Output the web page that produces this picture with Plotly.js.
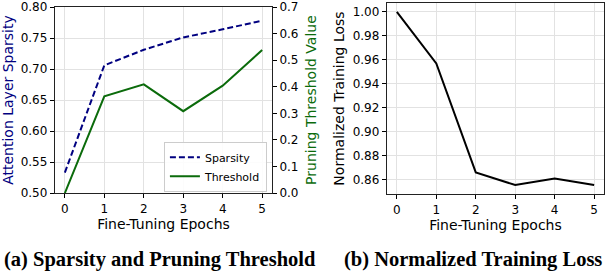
<!DOCTYPE html>
<html>
<head>
<meta charset="utf-8">
<script src="https://cdn.plot.ly/plotly-3.0.1.min.js"></script>
<style>html,body{margin:0;padding:0;background:#fff;}#chart{width:606px;height:272px;}</style>
</head>
<body>
<div id="chart"></div>
<script>
const epochs = [0, 1, 2, 3, 4, 5];
const sparsity = [0.533, 0.706, 0.731, 0.751, 0.764, 0.778];
const threshold = [0.0, 0.364, 0.409, 0.308, 0.404, 0.538];
const trainingLoss = [1.000, 0.957, 0.866, 0.8555, 0.861, 0.8555];

const navy = '#000080';
const green = '#0b6b0b';
const tickFont = {family: 'DejaVu Sans', size: 12, color: '#000'};
const titleFont = {family: 'DejaVu Sans', size: 14, color: '#000'};

const traces = [
  {x: epochs, y: sparsity, name: 'Sparsity', type: 'scatter', mode: 'lines',
   line: {color: navy, width: 2, dash: '6px,3px'}, xaxis: 'x', yaxis: 'y'},
  {x: epochs, y: threshold, name: 'Threshold', type: 'scatter', mode: 'lines',
   line: {color: green, width: 2}, xaxis: 'x', yaxis: 'y2'},
  {x: epochs, y: trainingLoss, name: 'Loss', type: 'scatter', mode: 'lines',
   line: {color: '#000', width: 2}, xaxis: 'x2', yaxis: 'y3', showlegend: false}
];

const baseX = {
  range: [-0.25, 5.25], tickvals: epochs, ticktext: epochs.map(String),
  ticks: 'outside', ticklen: 4, tickwidth: 1, tickcolor: '#000',
  showline: true, linecolor: '#222', linewidth: 1.2, mirror: true,
  showgrid: true, gridcolor: '#e2e2e2', gridwidth: 1, zeroline: false,
  tickfont: tickFont, ticklabeloverflow: 'allow',
  title: {text: 'Fine-Tuning Epochs', font: titleFont, standoff: 3}
};

const layout = {
  width: 606, height: 272,
  margin: {l: 55, r: 2, t: 3, b: 78},
  paper_bgcolor: '#fff', plot_bgcolor: '#fff',
  showlegend: true,
  legend: {x: 0.386, y: 0.012, xanchor: 'right', yanchor: 'bottom', xref: 'paper', yref: 'paper',
           bgcolor: 'rgba(255,255,255,0.9)', bordercolor: '#cccccc', borderwidth: 1,
           font: {family: 'DejaVu Sans', size: 11, color: '#000'}, tracegroupgap: 0, itemwidth: 30},
  xaxis: Object.assign({}, baseX, {domain: [0, 0.3953], anchor: 'y'}),
  xaxis2: Object.assign({}, baseX, {domain: [0.6047, 1], anchor: 'y3'}),
  yaxis: {
    domain: [0.005, 0.979], anchor: 'x', range: [0.5, 0.8],
    tickvals: [0.5, 0.55, 0.6, 0.65, 0.7, 0.75, 0.8], tickformat: '.2f',
    ticks: 'outside', ticklen: 4, tickcolor: '#000', ticklabeloverflow: 'allow',
    showline: true, linecolor: '#222', linewidth: 1.2, mirror: true,
    showgrid: true, gridcolor: '#e2e2e2', zeroline: false, tickfont: tickFont,
    title: {text: 'Attention Layer Sparsity', font: {family: 'DejaVu Sans', size: 14, color: navy}, standoff: 4}
  },
  yaxis2: {
    overlaying: 'y', side: 'right', anchor: 'x', range: [0, 0.7],
    tickvals: [0, 0.1, 0.2, 0.3, 0.4, 0.5, 0.6, 0.7], tickformat: '.1f',
    ticks: 'outside', ticklen: 4, tickcolor: '#000', ticklabeloverflow: 'allow',
    showline: false, showgrid: false, zeroline: false, tickfont: tickFont,
    title: {text: 'Pruning Threshold Value', font: {family: 'DejaVu Sans', size: 14, color: green}, standoff: 8}
  },
  yaxis3: {
    domain: [0, 1], anchor: 'x2', range: [0.848, 1.0075],
    tickvals: [0.86, 0.88, 0.9, 0.92, 0.94, 0.96, 0.98, 1.0], tickformat: '.2f',
    ticks: 'outside', ticklen: 4, tickcolor: '#000', ticklabeloverflow: 'allow',
    showline: true, linecolor: '#222', linewidth: 1.2, mirror: true,
    showgrid: true, gridcolor: '#e2e2e2', zeroline: false, tickfont: tickFont,
    title: {text: 'Normalized Training Loss', font: titleFont, standoff: 4}
  },
  annotations: [
    {text: '<b>(a) Sparsity and Pruning Threshold</b>', xref: 'paper', yref: 'paper',
     x: 0.192, y: -0.345, xanchor: 'center', yanchor: 'middle', showarrow: false,
     font: {family: 'Liberation Serif', size: 20.5, color: '#000'}},
    {text: '<b>(b) Normalized Training Loss</b>', xref: 'paper', yref: 'paper',
     x: 0.7605, y: -0.345, xanchor: 'center', yanchor: 'middle', showarrow: false,
     font: {family: 'Liberation Serif', size: 20.5, color: '#000'}}
  ]
};

Plotly.newPlot('chart', traces, layout, {displayModeBar: false, staticPlot: true});
</script>
</body>
</html>
